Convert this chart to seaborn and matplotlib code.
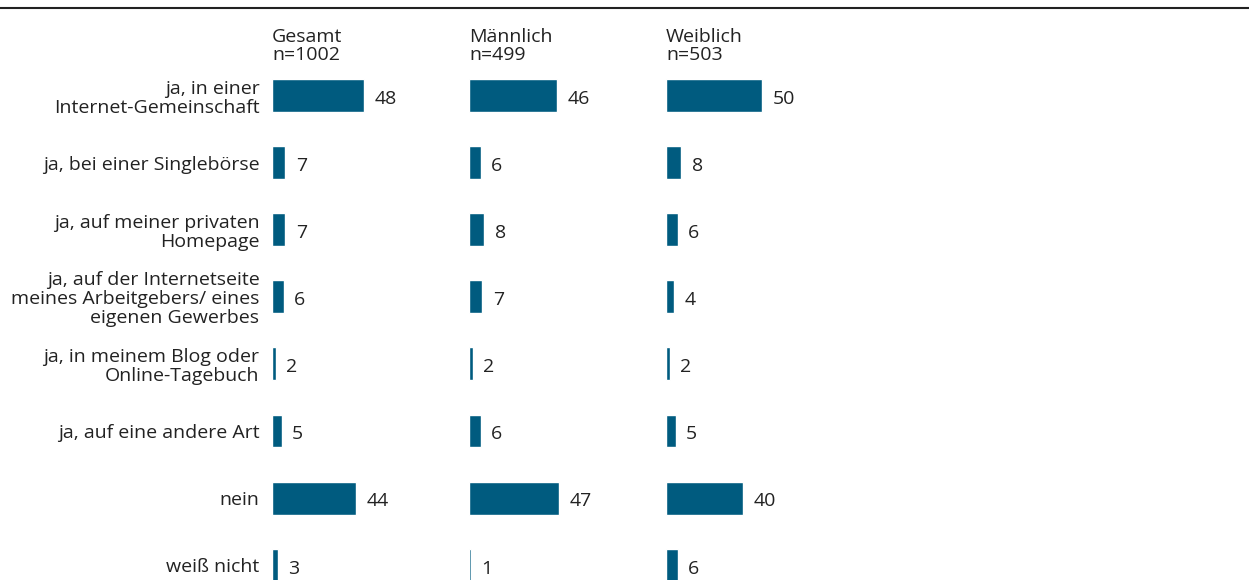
"""
Balkendiagramm: Angaben zur Person im Internet, nach Geschlecht
"""

import pandas as pd
import matplotlib.pyplot as plt
from matplotlib.lines import Line2D
import seaborn as sns

# Daten
categories = [
    "ja, in einer\nInternet-Gemeinschaft",
    "ja, bei einer Singlebörse",
    "ja, auf meiner privaten\nHomepage",
    "ja, auf der Internetseite\nmeines Arbeitgebers/ eines\neigenen Gewerbes",
    "ja, in meinem Blog oder\nOnline-Tagebuch",
    "ja, auf eine andere Art",
    "nein",
    "weiß nicht",
]
gesamt = [48, 7, 7, 6, 2, 5, 44, 3]
maennlich = [46, 6, 8, 7, 2, 6, 47, 1]
weiblich = [50, 8, 6, 4, 2, 5, 40, 6]
group_titles = ["Gesamt\nn=1002", "Männlich\nn=499", "Weiblich\nn=503"]

# Stil
sns.set_theme(style="white")
plt.rcParams["font.family"] = ["Open Sans", "DejaVu Sans"]
plt.rcParams["text.color"] = "#222222"

BAR_COLOR = "#005b7f"
TEXT_COLOR = "#222222"
FONT_SIZE = 14
W, H = 1249, 580

fig = plt.figure(figsize=(W / 100, H / 100), dpi=100)

# Linie oben
fig.add_artist(Line2D([0, 1], [1 - 8 / H, 1 - 8 / H], color=TEXT_COLOR, linewidth=1.5))

panel_left = [272, 469, 666]
row_step = 67.1
row_top = 95.5 - row_step / 2
axes_height = row_step * 8

for k, (values, title) in enumerate(zip([gesamt, maennlich, weiblich], group_titles)):
    left = panel_left[k]
    ax = fig.add_axes([left / W, 1 - (row_top + axes_height) / H, 192 / W, axes_height / H])
    df = pd.DataFrame({"Kategorie": categories, "Wert": values})
    sns.barplot(data=df, x="Wert", y="Kategorie", color=BAR_COLOR, width=0.49,
                orient="h", ax=ax, saturation=1)
    ax.set_xlim(0, 100)
    ax.set_ylim(7.5, -0.5)
    ax.set_xlabel("")
    ax.set_ylabel("")
    ax.set_xticks([])
    sns.despine(ax=ax, left=True, bottom=True)
    ax.tick_params(axis="y", length=0, pad=9)
    if k == 0:
        ax.set_yticklabels(categories, fontsize=FONT_SIZE, color=TEXT_COLOR, linespacing=1.08)
    else:
        ax.set_yticklabels([])

    # Werte neben den Balken
    for i, v in enumerate(values):
        ax.text(v + 5.5, i + 0.05, str(v), va="center", ha="left",
                fontsize=FONT_SIZE, color=TEXT_COLOR)

    # Spaltenüberschrift
    fig.text(left / W, 1 - 28 / H, title, ha="left", va="top", fontsize=FONT_SIZE,
             color=TEXT_COLOR, linespacing=1.0)

plt.savefig("out.png", dpi=100)
plt.close()
